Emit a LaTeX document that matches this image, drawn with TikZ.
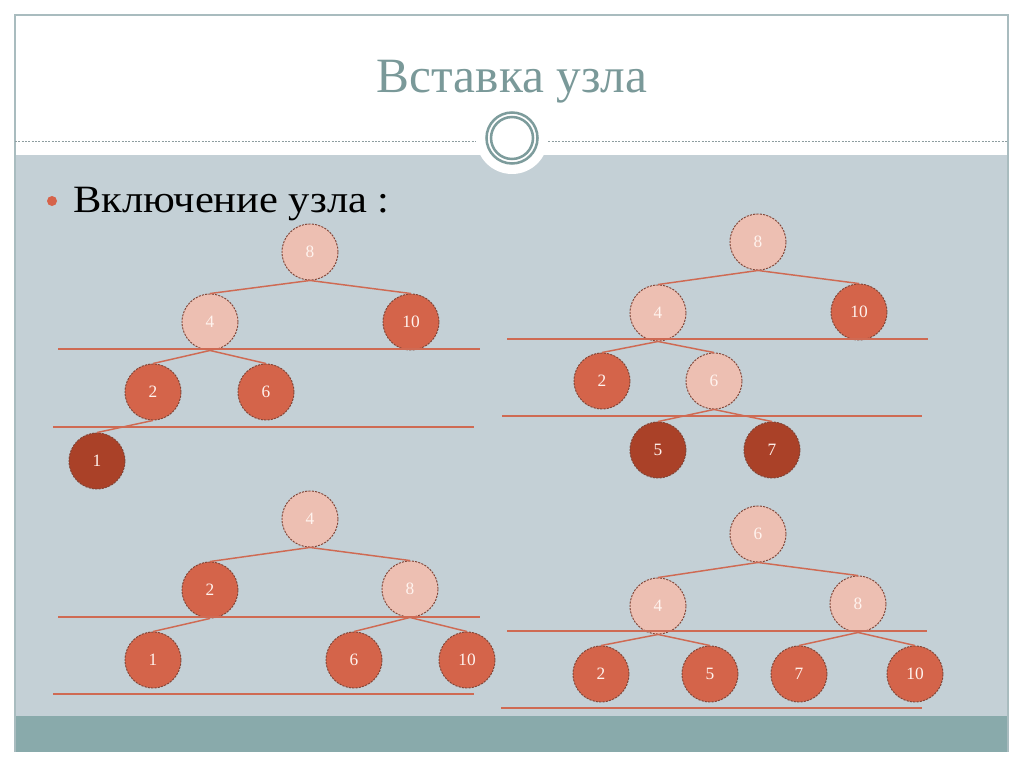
\documentclass[tikz,border=0pt]{standalone}
\usepackage{fontspec}
\setmainfont{Liberation Serif}
\definecolor{bodybg}{HTML}{C4D0D6}
\definecolor{tealband}{HTML}{89AAAB}
\definecolor{titlecol}{HTML}{7A9999}
\definecolor{ringcol}{HTML}{7D9C9C}
\definecolor{framecol}{HTML}{A9BCBF}
\definecolor{dotcol}{HTML}{8E9EA0}
\definecolor{nlight}{HTML}{EDBFB2}
\definecolor{nmid}{HTML}{D4644A}
\definecolor{ndark}{HTML}{AA4128}
\definecolor{nborder}{HTML}{7F4436}
\definecolor{linecol}{HTML}{CF6A53}
\definecolor{numcol}{HTML}{FFF3EE}
\definecolor{bulletcol}{HTML}{D6634A}
\tikzset{
  tnode/.style={circle, minimum size=42pt, inner sep=0pt, draw=nborder,
    line width=0.7pt, dash pattern=on 1.6pt off 0.9pt, text=numcol,
    font=\fontsize{13}{15}\selectfont},
  lt/.style={tnode, fill=nlight},
  md/.style={tnode, fill=nmid},
  dk/.style={tnode, fill=ndark},
  edge/.style={draw=linecol, line width=1.1pt},
  level/.style={draw=linecol, line width=1.1pt},
}
\begin{document}
\begin{tikzpicture}[x=0.75pt,y=-0.75pt]
\useasboundingbox (0,0) rectangle (1024,767);
\fill[white] (0,0) rectangle (1024,767);
% slide
\fill[white] (15,15) rectangle (1008,155);
\fill[bodybg] (15,155) rectangle (1008,716);
\fill[tealband] (15,716) rectangle (1008,752);
\draw[framecol, line width=1.2pt] (15,752) -- (15,15) -- (1008,15) -- (1008,752);
\draw[dotcol, line width=0.6pt, dash pattern=on 1.5pt off 1pt] (15,141) -- (1008,141);
\fill[white] (512,138) circle (36);
\draw[ringcol, line width=1.9pt] (512,138) circle (25.5);
\draw[ringcol, line width=1.9pt] (512,138) circle (21);
% title
\node[anchor=base, text=titlecol, font=\fontsize{37}{40}\selectfont, inner sep=0pt] (title) at (512,93) {Вставка узла};
% bullet
\fill[bulletcol] (52,201) circle (5);
\node[anchor=base west, font=\fontsize{29}{32}\selectfont, inner sep=0pt, xscale=1.1] (bt) at (73,212) {Включение узла :};
% Tree 1
\node[lt] (a8) at (310,252) {8};
\node[lt] (a4) at (210,322) {4};
\node[md] (a10) at (411,322) {10};
\node[md] (a2) at (153,392) {2};
\node[md] (a6) at (266,392) {6};
\node[dk] (a1) at (97,461) {1};
\draw[level] (58,349) -- (480,349);
\draw[level] (53,427) -- (474,427);
\draw[edge] (a8.south) -- (a4.north);
\draw[edge] (a8.south) -- (a10.north);
\draw[edge] (a4.south) -- (a2.north);
\draw[edge] (a4.south) -- (a6.north);
\draw[edge] (a2.south) -- (a1.north);
% Tree 2
\node[lt] (b8) at (758,242) {8};
\node[lt] (b4) at (658,313) {4};
\node[md] (b10) at (859,312) {10};
\node[md] (b2) at (602,381) {2};
\node[lt] (b6) at (714,381) {6};
\node[dk] (b5) at (658,450) {5};
\node[dk] (b7) at (772,450) {7};
\draw[level] (507,339) -- (928,339);
\draw[level] (502,416) -- (922,416);
\draw[edge] (b8.south) -- (b4.north);
\draw[edge] (b8.south) -- (b10.north);
\draw[edge] (b4.south) -- (b2.north);
\draw[edge] (b4.south) -- (b6.north);
\draw[edge] (b6.south) -- (b5.north);
\draw[edge] (b6.south) -- (b7.north);
% Tree 3
\node[lt] (c4) at (310,519) {4};
\node[md] (c2) at (210,590) {2};
\node[lt] (c8) at (410,589) {8};
\node[md] (c1) at (153,660) {1};
\node[md] (c6) at (354,660) {6};
\node[md] (c10) at (467,660) {10};
\draw[level] (58,617) -- (480,617);
\draw[level] (53,694) -- (474,694);
\draw[edge] (c4.south) -- (c2.north);
\draw[edge] (c4.south) -- (c8.north);
\draw[edge] (c2.south) -- (c1.north);
\draw[edge] (c8.south) -- (c6.north);
\draw[edge] (c8.south) -- (c10.north);
% Tree 4
\node[lt] (d6) at (758,534) {6};
\node[lt] (d4) at (658,606) {4};
\node[lt] (d8) at (858,604) {8};
\node[md] (d2) at (601,674) {2};
\node[md] (d5) at (710,674) {5};
\node[md] (d7) at (799,674) {7};
\node[md] (d10) at (915,674) {10};
\draw[level] (507,631) -- (927,631);
\draw[level] (501,708) -- (922,708);
\draw[edge] (d6.south) -- (d4.north);
\draw[edge] (d6.south) -- (d8.north);
\draw[edge] (d4.south) -- (d2.north);
\draw[edge] (d4.south) -- (d5.north);
\draw[edge] (d8.south) -- (d7.north);
\draw[edge] (d8.south) -- (d10.north);
\end{tikzpicture}
\end{document}
